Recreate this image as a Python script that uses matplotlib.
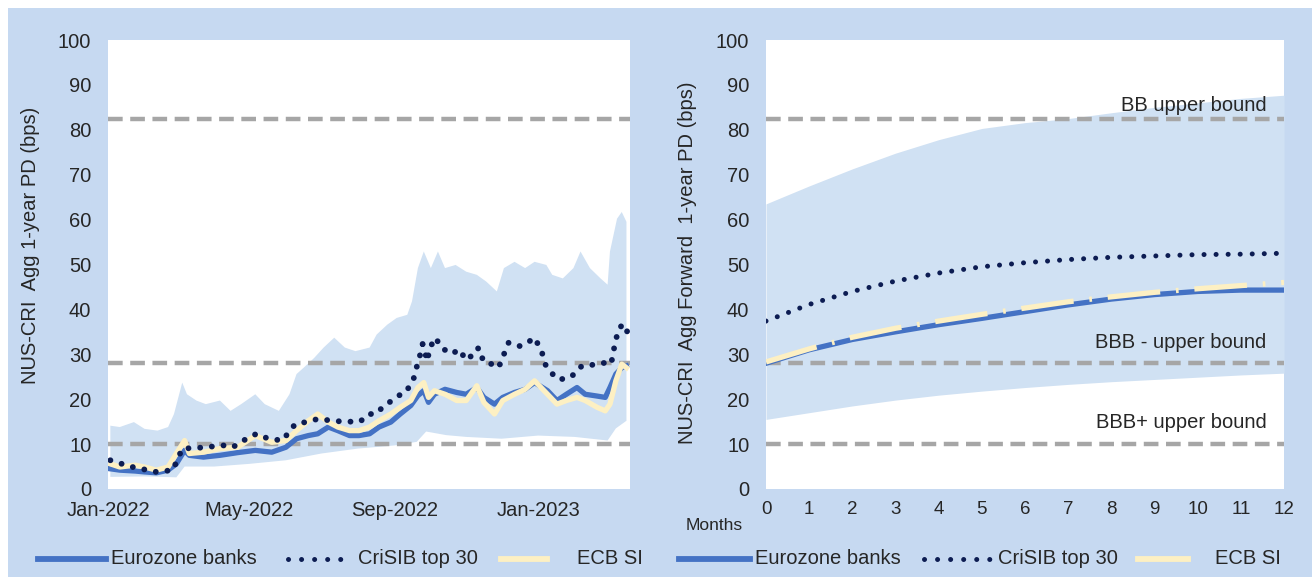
import matplotlib
matplotlib.use("Agg")
import matplotlib.pyplot as plt
import matplotlib.dates as mdates
from matplotlib.patches import Rectangle
import numpy as np
import pandas as pd

plt.rcParams['font.family'] = ['Liberation Sans', 'DejaVu Sans']

# ---- left panel: daily PD history ----
line_dates = ['2022-01-03', '2022-01-11', '2022-01-24', '2022-02-01', '2022-02-11', '2022-02-21',
              '2022-02-28', '2022-03-07', '2022-03-11', '2022-03-23', '2022-04-06', '2022-04-21',
              '2022-05-06', '2022-05-20', '2022-06-01', '2022-06-10', '2022-06-20', '2022-06-28',
              '2022-07-07', '2022-07-15', '2022-07-25', '2022-08-02', '2022-08-11', '2022-08-19',
              '2022-08-29', '2022-09-06', '2022-09-15', '2022-09-21', '2022-09-26', '2022-09-30',
              '2022-10-05', '2022-10-14', '2022-10-24', '2022-11-01', '2022-11-10', '2022-11-16',
              '2022-11-25', '2022-12-02', '2022-12-12', '2022-12-21', '2022-12-29', '2023-01-09',
              '2023-01-17', '2023-01-25', '2023-02-03', '2023-02-10', '2023-02-20', '2023-02-27',
              '2023-03-03', '2023-03-08', '2023-03-13', '2023-03-17']
eurozone = [4.5, 4.2, 4.0, 3.8, 3.6, 4.2, 5.6, 8.6, 7.5, 7.1, 7.5, 8.1,
            8.6, 8.2, 9.3, 11.2, 11.9, 12.3, 13.8, 13.0, 11.9, 11.9, 12.3, 13.8,
            14.9, 16.7, 18.6, 20.8, 21.9, 19.3, 21.1, 22.2, 21.5, 21.1, 22.6, 20.4,
            18.9, 20.4, 21.5, 22.2, 23.7, 21.9, 19.7, 21.1, 22.6, 21.1, 20.7, 20.4,
            22.6, 25.6, 27.0, 27.4]
ecb_si = [5.6, 4.9, 5.3, 4.9, 4.2, 4.9, 7.9, 10.8, 7.9, 8.2, 9.0, 9.3,
          11.9, 10.4, 10.8, 13.0, 15.2, 16.7, 14.9, 13.8, 13.0, 13.0, 13.8, 15.2,
          16.7, 18.2, 19.7, 22.6, 23.7, 20.4, 21.9, 21.1, 19.7, 19.7, 23.0, 19.3,
          16.7, 19.7, 21.1, 22.2, 24.1, 21.1, 18.9, 19.7, 20.4, 19.7, 18.2, 17.4,
          18.9, 24.1, 27.8, 27.0]

crisib_dates = ['2022-01-03', '2022-01-20', '2022-02-11', '2022-02-25', '2022-03-05', '2022-03-20',
                '2022-04-09', '2022-04-17', '2022-04-23', '2022-05-07', '2022-05-17', '2022-05-29',
                '2022-06-09', '2022-06-18', '2022-06-28', '2022-07-11', '2022-07-20', '2022-07-27',
                '2022-08-03', '2022-08-10', '2022-08-16', '2022-08-25', '2022-08-31', '2022-09-05',
                '2022-09-08', '2022-09-11', '2022-09-17', '2022-09-20', '2022-09-23', '2022-09-25',
                '2022-09-29', '2022-10-01', '2022-10-06', '2022-10-11', '2022-10-20', '2022-10-26',
                '2022-11-01', '2022-11-07', '2022-11-11', '2022-11-13', '2022-11-20', '2022-11-24',
                '2022-11-30', '2022-12-03', '2022-12-07', '2022-12-11', '2022-12-17', '2022-12-23',
                '2022-12-29', '2023-01-01', '2023-01-04', '2023-01-07', '2023-01-11', '2023-01-17',
                '2023-01-25', '2023-02-01', '2023-02-07', '2023-02-13', '2023-02-19', '2023-02-25',
                '2023-03-04', '2023-03-06', '2023-03-08', '2023-03-11', '2023-03-14', '2023-03-17',
                '2023-03-18']
crisib = [6.4, 5.0, 3.8, 4.2, 9.0, 9.2, 9.7, 9.3, 10.4, 12.3, 11.2, 10.8,
          14.5, 14.9, 15.6, 15.2, 15.0, 15.0, 15.0, 16.7, 16.7, 18.9, 19.8, 20.8,
          21.5, 21.7, 24.2, 27.2, 30.0, 32.3, 28.5, 31.4, 33.7, 31.4, 30.1, 31.1,
          28.7, 30.0, 31.4, 29.2, 28.9, 27.0, 27.8, 30.0, 32.6, 32.2, 31.8, 32.6,
          33.7, 32.2, 30.7, 27.8, 26.3, 24.5, 24.5, 25.6, 27.4, 27.5, 27.8, 28.1,
          27.8, 30.7, 33.3, 35.9, 36.6, 36.3, 34.0]

upper_dates = ['2022-01-03', '2022-01-11', '2022-01-23', '2022-02-01', '2022-02-12', '2022-02-21',
               '2022-02-26', '2022-03-05', '2022-03-09', '2022-03-17', '2022-03-25', '2022-04-06',
               '2022-04-15', '2022-04-24', '2022-05-06', '2022-05-14', '2022-05-26', '2022-06-04',
               '2022-06-10', '2022-06-16', '2022-06-25', '2022-07-03', '2022-07-12', '2022-07-21',
               '2022-07-30', '2022-08-11', '2022-08-17', '2022-08-26', '2022-09-03', '2022-09-12',
               '2022-09-16', '2022-09-21', '2022-09-26', '2022-10-02', '2022-10-08', '2022-10-14',
               '2022-10-23', '2022-11-01', '2022-11-10', '2022-11-18', '2022-11-27', '2022-12-03',
               '2022-12-12', '2022-12-21', '2022-12-29', '2023-01-08', '2023-01-13', '2023-01-22',
               '2023-01-31', '2023-02-06', '2023-02-14', '2023-02-23', '2023-03-01', '2023-03-03',
               '2023-03-09', '2023-03-13', '2023-03-17']
band_upper = [14.1, 13.8, 14.9, 13.4, 13.0, 13.8, 16.7, 23.7, 21.1, 19.7, 18.9, 19.7,
              17.4, 18.9, 21.1, 18.9, 17.4, 21.1, 25.6, 27.0, 29.2, 31.5, 33.7, 31.5,
              30.7, 31.5, 34.4, 36.6, 38.1, 38.8, 41.8, 49.2, 52.9, 49.2, 52.9, 49.2,
              49.9, 48.4, 47.7, 46.2, 44.0, 49.2, 50.6, 49.2, 50.6, 49.9, 47.7, 46.9,
              49.2, 52.9, 49.2, 46.9, 45.5, 52.9, 60.2, 61.7, 59.5]

lower_dates = ['2022-01-03', '2022-02-01', '2022-02-28', '2022-03-07', '2022-04-01', '2022-05-01',
               '2022-06-01', '2022-07-01', '2022-08-01', '2022-09-01', '2022-09-20', '2022-09-28',
               '2022-10-15', '2022-11-01', '2022-12-01', '2023-01-01', '2023-02-01', '2023-03-01',
               '2023-03-08', '2023-03-17']
band_lower = [2.7, 2.8, 2.6, 5.0, 5.0, 5.6, 6.4, 7.9, 9.0, 9.7, 10.5, 12.8,
              12.0, 11.6, 11.2, 11.9, 11.6, 10.8, 13.5, 15.2]

date_ticks = ['2022-01-01', '2022-05-01', '2022-09-01', '2023-01-01']
date_tick_labels = ['Jan-2022', 'May-2022', 'Sep-2022', 'Jan-2023']

# ---- right panel: forward PD term structure ----
months = list(range(13))
fwd_eurozone = [28.0, 31.0, 33.3, 35.0, 36.6, 38.0, 39.5, 41.0, 42.3, 43.3, 44.0, 44.3, 44.3]
fwd_ecb_si = [28.3, 31.2, 33.8, 35.8, 37.4, 38.9, 40.3, 41.7, 42.8, 43.8, 44.6, 45.3, 46.0]
fwd_crisib = [37.4, 41.1, 44.0, 46.3, 48.1, 49.5, 50.4, 51.1, 51.6, 51.9, 52.2, 52.3, 52.5]
fwd_upper = [63.5, 67.5, 71.3, 74.8, 77.8, 80.3, 81.6, 82.5, 83.8, 85.0, 86.0, 87.0, 87.7]
fwd_lower = [15.5, 17.0, 18.5, 19.8, 20.9, 21.8, 22.6, 23.3, 23.9, 24.4, 24.9, 25.4, 25.8]

bounds = [82.3, 28.0, 10.0]
bound_labels = ['BB upper bound', 'BBB - upper bound', 'BBB+ upper bound']

BG = '#c6d9f1'
BAND = '#d0e1f3'
BLUE = '#4472c4'
NAVY = '#0c1c52'
CREAM = '#fdf0c3'
GREY = '#a6a6a6'
TXT = '#262626'

fig = plt.figure(figsize=(13.12, 5.77), dpi=100, facecolor='white')

# background in pixel coords (also holds the legends)
bg = fig.add_axes([0, 0, 1, 1])
bg.set_xlim(0, 1312)
bg.set_ylim(577, 0)
bg.axis('off')
bg.add_patch(Rectangle((8, 8), 1304, 569, color=BG, lw=0))

ax1 = fig.add_axes([108 / 1312, 1 - 489 / 577, 522 / 1312, 449 / 577])
ax2 = fig.add_axes([766 / 1312, 1 - 489 / 577, 518 / 1312, 449 / 577])

for ax in (ax1, ax2):
    ax.set_facecolor('white')
    for s in ax.spines.values():
        s.set_visible(False)
    ax.set_ylim(0, 100)
    ax.set_yticks(range(0, 101, 10))
    ax.tick_params(length=0, colors=TXT)
    ax.tick_params(axis='y', labelsize=14.5, pad=12)
    for b in bounds:
        ax.axhline(b, color=GREY, lw=3.2, dashes=(3.3, 1.7), zorder=2)

# left panel
ld = mdates.date2num(pd.to_datetime(line_dates))
cd = mdates.date2num(pd.to_datetime(crisib_dates))
ud = mdates.date2num(pd.to_datetime(upper_dates))
lwd = mdates.date2num(pd.to_datetime(lower_dates))

ax1.fill(np.concatenate([ud, lwd[::-1]]), np.concatenate([band_upper, band_lower[::-1]]),
         color=BAND, lw=0, zorder=1)
ax1.plot(ld, eurozone, color=BLUE, lw=3.8, zorder=3)
ax1.plot(ld, ecb_si, color=CREAM, lw=3.8, zorder=4)
ax1.plot(cd, crisib, color=NAVY, lw=4.2, linestyle=(0, (0.01, 2.0)), dash_capstyle='round', zorder=5)

ax1.set_xlim(mdates.date2num(pd.Timestamp('2022-01-01')), mdates.date2num(pd.Timestamp('2023-03-20')))
ax1.set_xticks(mdates.date2num(pd.to_datetime(date_ticks)))
ax1.set_xticklabels(date_tick_labels)
ax1.tick_params(axis='x', labelsize=14.5, pad=9)
ax1.set_ylabel('NUS-CRI  Agg 1-year PD (bps)', fontsize=14.5, color=TXT)
ax1.yaxis.set_label_coords(-0.13, 0.543)

# right panel
ax2.fill_between(months, fwd_lower, fwd_upper, color=BAND, lw=0, zorder=1)
ax2.plot(months, fwd_eurozone, color=BLUE, lw=3.8, zorder=3)
ax2.plot(months, fwd_ecb_si, color=CREAM, lw=3.8, linestyle=(0, (10, 3, 0.5, 3)), zorder=4)
ax2.plot(months, fwd_crisib, color=NAVY, lw=3.6, linestyle=(0, (0.01, 2.4)), dash_capstyle='round', zorder=5)
ax2.set_xlim(0, 12)
ax2.set_xticks(months)
ax2.tick_params(axis='x', labelsize=13.5, pad=9)
ax2.set_ylabel('NUS-CRI  Agg Forward  1-year PD (bps)', fontsize=14.5, color=TXT)
ax2.yaxis.set_label_coords(-0.133, 0.503)

for lab, y in zip(bound_labels, [85.5, 32.7, 14.9]):
    ax2.text(11.6, y, lab, ha='right', va='center', fontsize=14.5, color=TXT, zorder=6)

bg.text(714, 525, 'Months', ha='center', va='center', fontsize=12.5, color=TXT)

# legends, drawn by hand so each key keeps its own length
def legend_row(x_blue, x_dots, x_cream):
    y = 559
    bg.plot(x_blue[:2], [y, y], color=BLUE, lw=4.2)
    bg.text(x_blue[2], y, 'Eurozone banks', va='center', fontsize=14.5, color=TXT)
    bg.plot(x_dots[:2], [y, y], color=NAVY, lw=3.6, linestyle=(0, (0.01, 2.6)), dash_capstyle='round')
    bg.text(x_dots[2], y, 'CriSIB top 30', va='center', fontsize=14.5, color=TXT)
    bg.plot(x_cream[:2], [y, y], color=CREAM, lw=4.2)
    bg.text(x_cream[2], y, 'ECB SI', va='center', fontsize=14.5, color=TXT)

legend_row((38, 106, 111), (288, 350, 358), (501, 547, 577))
legend_row((679, 750, 755), (924, 990, 998), (1138, 1188, 1215))

fig.savefig('out.png', dpi=100, facecolor=fig.get_facecolor())
